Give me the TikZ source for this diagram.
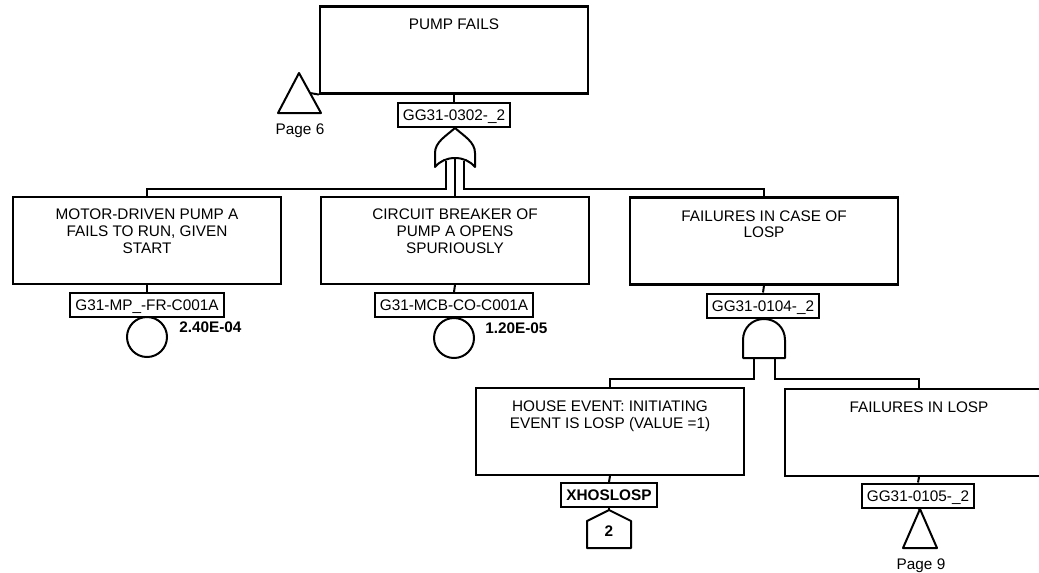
\documentclass[tikz,border=0pt]{standalone}
\usepackage{fontspec}
\setmainfont{Liberation Sans}
\usetikzlibrary{calc}
\begin{document}
\begin{tikzpicture}[x=0.75pt,y=-0.75pt,
  evbox/.style={draw, line width=1.8pt, minimum width=201pt, minimum height=65pt, inner sep=0pt},
  evtext/.style={anchor=north, align=center, inner sep=0pt, font=\fontsize{11.5}{12.4}\selectfont},
  idbox/.style={draw, fill=white, line width=1.5pt, inner xsep=4pt, inner ysep=0pt,
    minimum height=18pt, text height=8.3pt, text depth=0pt, font=\fontsize{11.5}{12.4}\selectfont},
  wire/.style={line width=1.5pt},
  gate/.style={draw, fill=white, line width=1.5pt, line join=round},
  basic/.style={draw, circle, line width=1.5pt, minimum size=30pt, inner sep=0pt},
  prob/.style={anchor=west, inner sep=0pt, font=\fontsize{11.5}{12.4}\selectfont\bfseries},
  pagetext/.style={anchor=base, inner sep=0pt, font=\fontsize{11.5}{12.4}\selectfont}
]
\useasboundingbox (0,0) rectangle (1039,572);
\clip (0,0) rectangle (1039,572);

% ---- event boxes ----
\node[evbox] (top) at (454,50) {};
\node[evtext] (toptxt) at ($(top.north)+(0,13)$) {PUMP FAILS};

\node[evbox] (left) at (147,240.5) {};
\node[evtext] (lefttxt) at ($(left.north)+(0,13)$) {MOTOR-DRIVEN PUMP A\\FAILS TO RUN, GIVEN\\START};

\node[evbox] (middle) at (455,240.5) {};
\node[evtext] (midtxt) at ($(middle.north)+(0,13)$) {CIRCUIT BREAKER OF\\PUMP A OPENS\\SPURIOUSLY};

\node[evbox] (right) at (764,241) {};
\node[evtext] (righttxt) at ($(right.north)+(0,14)$) {FAILURES IN CASE OF\\LOSP};

\node[evbox] (house) at (610,431.5) {};
\node[evtext] (housetxt) at ($(house.north)+(0,14)$) {HOUSE EVENT: INITIATING\\EVENT IS LOSP (VALUE =1)};

\node[evbox] (flosp) at (919,432.5) {};
\node[evtext] (flosptxt) at ($(flosp.north)+(0,14)$) {FAILURES IN LOSP};

% ---- identifiers ----
\node[idbox] (g0302) at (454,115) {GG31-0302-\_2};
\node[idbox] (mp) at (147,305) {G31-MP\_-FR-C001A};
\node[idbox] (mcb) at (454,305) {G31-MCB-CO-C001A};
\node[idbox] (g0104) at (763,305.5) {GG31-0104-\_2};
\node[idbox, font=\fontsize{11.5}{12.4}\selectfont\bfseries] (xhos) at (609,495) {XHOSLOSP};
\node[idbox] (g0105) at (918,495.5) {GG31-0105-\_2};

\draw[wire] (top.south) -- (g0302.north);
\draw[wire] (left.south) -- (mp.north);
\draw[wire] (middle.south) -- (mcb.north);
\draw[wire] (right.south) -- (g0104.north);
\draw[wire] (house.south) -- (xhos.north);
\draw[wire] (flosp.south) -- (g0105.north);

% ---- transfer to page 6 ----
\coordinate (t6apex) at (299,73);
\coordinate (t6side) at (310,93);
\draw[gate] (t6apex) -- (321,113) -- (278,113) -- cycle;
\draw[wire] (t6side) -- (top.south west);
\node[pagetext] (p6) at (300,134) {Page 6};

% ---- OR gate ----
\coordinate (ortop) at (455,128);
\coordinate (orlegL) at (446,161);
\coordinate (orlegR) at (464,161);
\coordinate (ormid) at (455,158);
\draw[wire] (orlegL) -- (446,189) -| (left.north);
\draw[wire] (orlegR) -- (464,189) -| (right.north);
\draw[wire] (ormid) -- (middle.north);
\draw[gate] (ortop) .. controls (446,136) and (435,142) .. (435,153) -- (435,167)
  .. controls (440,161) and (447,158) .. (ormid)
  .. controls (463,158) and (470,161) .. (475,167) -- (475,153)
  .. controls (475,142) and (464,136) .. (ortop) -- cycle;
\draw[wire] (g0302.south) -- (ortop);

% ---- basic events ----
\node[basic] (mpc) at (147,337) {};
\node[basic] (mcbc) at (454,338) {};
\draw[wire] (mp.south) -- (mpc.north);
\draw[wire] (mcb.south) -- (mcbc.north);
\node[prob] (mpp) at (179,327.5) {2.40E-04};
\node[prob] (mcbp) at (485,328.5) {1.20E-05};

% ---- AND gate ----
\coordinate (andtop) at (764,319);
\coordinate (andlegL) at (754,356);
\coordinate (andlegR) at (775,356);
\draw[wire] (andlegL) -- (754,379) -| (house.north);
\draw[wire] (andlegR) -- (775,379) -| (flosp.north);
\draw[gate] (743,358) -- (743,340) .. controls (743,328) and (752,319) .. (andtop)
  .. controls (776,319) and (785,328) .. (785,340) -- (785,358) -- cycle;
\draw[wire] (g0104.south) -- (andtop);

% ---- house event ----
\coordinate (hapex) at (609,510);
\draw[gate] (hapex) -- (631,521) -- (631,548) -- (587,548) -- (587,521) -- cycle;
\node[inner sep=0pt, font=\fontsize{11.5}{12.4}\selectfont\bfseries] (hval) at (609,531) {2};
\draw[wire] (xhos.south) -- (hapex);

% ---- transfer to page 9 ----
\coordinate (t9apex) at (920,509);
\draw[gate] (t9apex) -- (937,548) -- (903,548) -- cycle;
\draw[wire] (g0105.south) -- (t9apex);
\node[pagetext] (p9) at (921,569) {Page 9};
\end{tikzpicture}
\end{document}
